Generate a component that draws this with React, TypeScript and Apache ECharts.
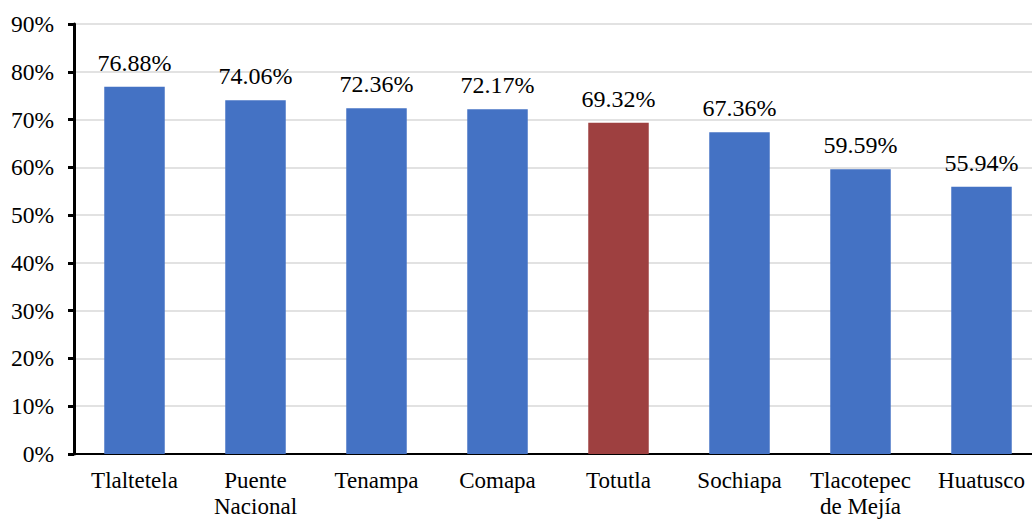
import React, { useEffect, useRef } from "react";
import * as echarts from "echarts";

const categories = ["Tlaltetela", "Puente\nNacional", "Tenampa", "Comapa", "Totutla", "Sochiapa", "Tlacotepec\nde Mejía", "Huatusco"];
const values = [76.88, 74.06, 72.36, 72.17, 69.32, 67.36, 59.59, 55.94];
const highlight = "Totutla";
const yTicks = [0, 10, 20, 30, 40, 50, 60, 70, 80, 90];

export default function App() {
  const ref = useRef<HTMLDivElement>(null);
  useEffect(() => {
    const chart = echarts.init(ref.current!, null, { renderer: "svg" });
    const font = "Liberation Serif";
    chart.setOption({
      animation: false,
      textStyle: { fontFamily: font },
      grid: { left: 74, top: 24, width: 968, height: 430, containLabel: false, outerBoundsMode: "none" },
      xAxis: {
        type: "category",
        data: categories,
        axisLine: { lineStyle: { color: "#000", width: 2 } },
        axisTick: { show: false },
        axisLabel: { color: "#000", fontSize: 23, fontFamily: font, margin: 13, lineHeight: 26, interval: 0 },
      },
      yAxis: {
        type: "value",
        min: yTicks[0],
        max: yTicks[yTicks.length - 1],
        interval: 10,
        axisLine: { show: true, lineStyle: { color: "#000", width: 3 } },
        axisTick: { show: true, length: 6, lineStyle: { color: "#000", width: 3 } },
        axisLabel: { color: "#000", fontSize: 23.5, fontFamily: font, margin: 20, formatter: (v: number) => v + "%" },
        splitLine: { show: true, lineStyle: { color: "#d9d9d9", width: 1.5 } },
      },
      series: [
        {
          type: "bar",
          barWidth: "50%",
          data: values.map((v, i) => ({
            value: v,
            itemStyle: { color: categories[i] === highlight ? "#9e4040" : "#4472c4" },
          })),
          label: {
            show: true,
            position: "top",
            distance: 12,
            color: "#000",
            fontSize: 24,
            fontFamily: font,
            formatter: (p: any) => p.value.toFixed(2) + "%",
          },
        },
      ],
    });
    return () => chart.dispose();
  }, []);
  return <div ref={ref} style={{ width: 1032, height: 521, position: "absolute", left: 0, top: 0, overflow: "hidden" }} />;
}
